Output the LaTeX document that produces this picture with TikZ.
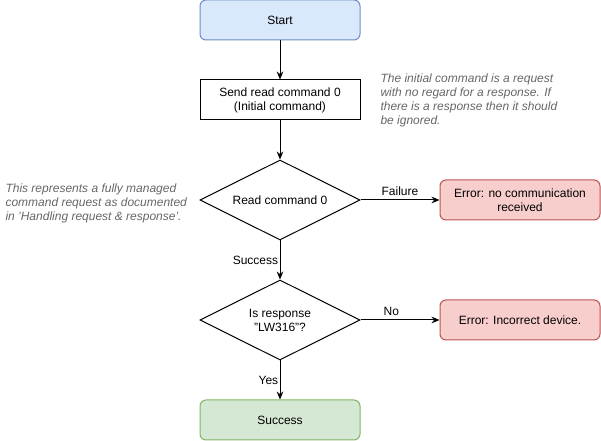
\documentclass[tikz,border=0pt]{standalone}
\usepackage{fontspec}
\setmainfont{Liberation Sans}
\usetikzlibrary{shapes.geometric}
\usetikzlibrary{arrows.meta}

\definecolor{startfill}{HTML}{DAE8FC}
\definecolor{startline}{HTML}{6C8EBF}
\definecolor{errfill}{HTML}{F8CECC}
\definecolor{errline}{HTML}{B85450}
\definecolor{okfill}{HTML}{D5E8D4}
\definecolor{okline}{HTML}{82B366}
\definecolor{notegray}{HTML}{666666}

\begin{document}
\begin{tikzpicture}[x=0.75pt, y=-0.75pt, line width=0.75pt,
    every node/.style={font=\fontsize{9}{10.5}\selectfont},
    box/.style={draw, align=center, minimum width=120pt, minimum height=30pt, inner sep=2pt},
    roundbox/.style={box, rounded corners=4.5pt},
    decision/.style={draw, diamond, aspect=2, align=center, inner sep=0pt, minimum width=120pt, minimum height=60pt},
    note/.style={align=left, text=notegray, inner sep=0pt, font=\fontsize{9}{10.5}\selectfont\itshape},
    arr/.style={-{Stealth[length=6pt, width=5pt]}},
    lbl/.style={inner sep=1pt}]

  \useasboundingbox (0,0) rectangle (601,441);

  \node [roundbox, fill=startfill, draw=startline] (start) at (280,20) {Start};
  \node [box] (send) at (280,100) {Send read command 0\\(Initial command)};
  \node [decision] (readcmd) at (280,200) {Read command 0};
  \node [roundbox, fill=errfill, draw=errline] (errcomm) at (520,200) {Error: no communication\\received};
  \node [decision] (isresp) at (280,320) {Is response\\"LW316"?};
  \node [roundbox, fill=errfill, draw=errline] (errdev) at (520,320) {Error: Incorrect device.};
  \node [roundbox, fill=okfill, draw=okline] (success) at (280,420) {Success};

  \node [note, anchor=west] (initnote) at (380,100)
        {The initial command is a request\\with no regard for a response. If\\there is a response then it should\\be ignored.};
  \node [note, anchor=west] (managednote) at (5,203)
        {This represents a fully managed\\command request as documented\\in 'Handling request \& response'.};

  \draw [arr] (start) -- (send);
  \draw [arr] (send) -- (readcmd);
  \draw [arr] (readcmd) -- node[lbl, above=2pt] {Failure} (errcomm);
  \draw [arr] (readcmd) -- node[lbl, left=0pt] {Success} (isresp);
  \draw [arr] (isresp) -- node[lbl, above=2pt, pos=0.39] {No} (errdev);
  \draw [arr] (isresp) -- node[lbl, left=0pt] {Yes} (success);

\end{tikzpicture}
\end{document}
